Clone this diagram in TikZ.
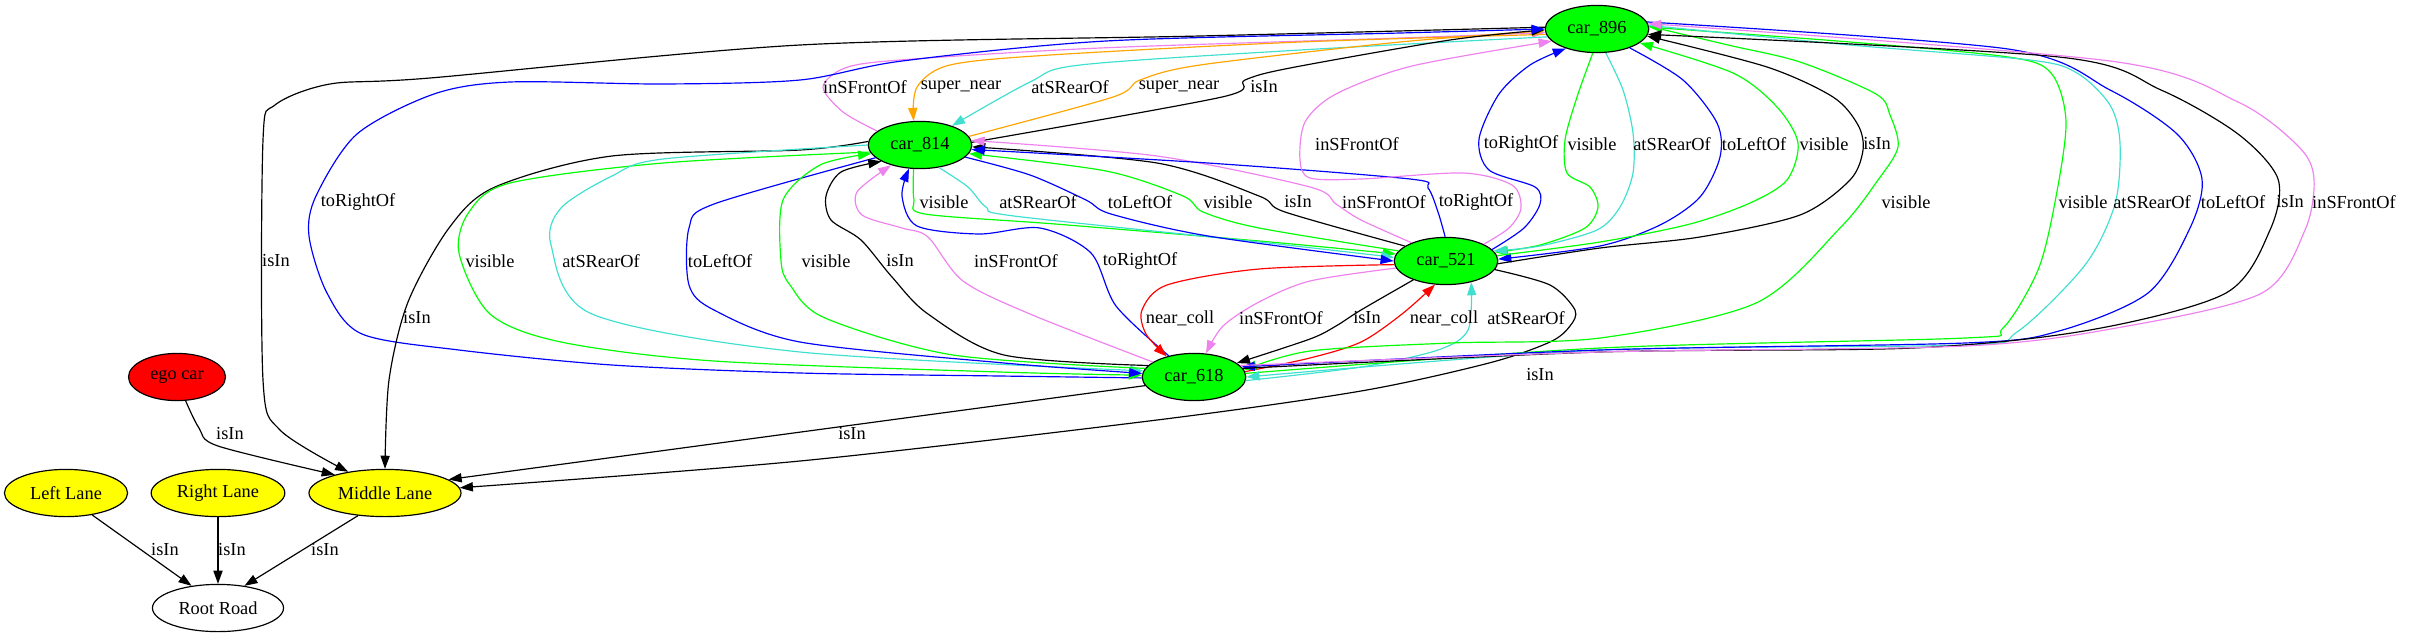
\documentclass[tikz,border=0pt]{standalone}
\usepackage{fontspec}
\setmainfont{Liberation Serif}
\usetikzlibrary{arrows.meta, shapes.geometric}
\definecolor{gvGreen}{RGB}{0, 255, 0}
\definecolor{gvYellow}{RGB}{255, 255, 0}
\definecolor{gvRed}{RGB}{255, 0, 0}
\definecolor{gvBlue}{RGB}{0, 0, 255}
\definecolor{gvTurq}{RGB}{64, 224, 208}
\definecolor{gvViolet}{RGB}{238, 130, 238}
\definecolor{gvOrange}{RGB}{255, 165, 0}

\begin{document}
\begin{tikzpicture}[
    x=0.763pt, y=-0.763pt,
    gnode/.style={ellipse, draw=black, line width=0.9pt, minimum height=36pt,
                  inner sep=2pt, font=\fontsize{14}{16}\selectfont},
    carnode/.style={gnode, fill=gvGreen, minimum width=79pt},
    lanenode/.style={gnode, fill=gvYellow},
    rel/.style={line width=0.9pt, -{Triangle[length=10pt, width=7pt]}},
    rlabel/.style={inner sep=0pt, font=\fontsize{14}{16}\selectfont},
  ]
    \useasboundingbox (0,0) rectangle (2418,639);

    \node[carnode] (car896) at (1597,29) {car\_896};
    \node[carnode] (car814) at (920,145) {car\_814};
    \node[carnode] (car521) at (1446,261) {car\_521};
    \node[carnode] (car618) at (1194,377) {car\_618};
    \node[gnode, fill=gvRed, minimum width=74pt] (ego) at (177,377) {ego car};
    \node[lanenode, minimum width=94pt] (leftlane) at (66,493) {Left Lane};
    \node[lanenode, minimum width=102pt] (rightlane) at (218,493) {Right Lane};
    \node[lanenode, minimum width=116pt] (midlane) at (385,493) {Middle Lane};
    \node[gnode, fill=white, minimum width=100pt] (root) at (218,608) {Root Road};

    % car_814 / car_896
    \draw[rel, gvViolet] plot[smooth] coordinates {(car814.162) (843,112) (823,87) (845,68) (900,60) (1100,48) (1400,38) (car896.184)};
    \draw[rel, gvOrange] plot[smooth] coordinates {(car896.186) (1300,42) (1050,55) (950,65) (917,87) (car814.105)};
    \draw[rel, gvTurq] plot[smooth] coordinates {(car896.189) (1300,50) (1080,65) (1030,82) (car814.31)};
    \draw[rel, gvOrange] plot[smooth] coordinates {(car814.10) (1113,97) (1140,80) (1200,65) (1400,42) (car896.182)};
    \draw[rel] plot[smooth] coordinates {(car814.3) (1222,97) (1245,80) (1290,68) (1450,40) (car896.181)};
    \node[rlabel] (lab1) at (865,87) {inSFrontOf};
    \node[rlabel] (lab2) at (961,87) {super\_near};
    \node[rlabel] (lab3) at (1070,87) {atSRearOf};
    \node[rlabel] (lab4) at (1179,87) {super\_near};
    \node[rlabel] (lab5) at (1264,87) {isIn};

    % lanes and road
    \draw[rel] plot[smooth] coordinates {(car896.178) (1200,36) (800,45) (430,78) (330,84) (275,105) (263,140) (263,380) (280,430) (midlane.150)};
    \draw[rel, gvBlue] plot[smooth] coordinates {(car618.181) (1000,376) (800,373) (612,365) (459,350) (362,334) (327,293) (309,236) (316,196) (357,134) (434,94) (510,82) (663,84) (800,80) (902,61) (1106,41) (1400,33) (car896.180)};
    \draw[rel] plot[smooth] coordinates {(car814.176) (800,150) (612,156) (495,187) (449,228) (408,302) (389,380) (midlane.north)};
    \draw[rel] (car618.190) -- (midlane.12);
    \draw[rel] plot[smooth] coordinates {(car521.-10) (1550,285) (1575,310) (1570,326) (1550,342) (1489,363) (1361,391) (1157,420) (800,461) (midlane.4)};
    \draw[rel] plot[smooth] coordinates {(ego.-70) (199,428) (218,446) (midlane.160)};
    \draw[rel] (leftlane.-40) -- (root.140);
    \draw[rel] (rightlane) -- (root);
    \draw[rel] (midlane.-140) -- (root.40);
    \node[rlabel] (lab6) at (276,261) {isIn};
    \node[rlabel] (lab7) at (358,202) {toRightOf};
    \node[rlabel] (lab8) at (417,318) {isIn};
    \node[rlabel] (lab9) at (852,434) {isIn};
    \node[rlabel] (lab10) at (1540,375) {isIn};
    \node[rlabel] (lab11) at (230,434) {isIn};
    \node[rlabel] (lab12) at (165,550) {isIn};
    \node[rlabel] (lab13) at (232,550) {isIn};
    \node[rlabel] (lab14) at (325,550) {isIn};

    % car_814 / car_521
    \draw[rel, gvGreen] plot[smooth] coordinates {(car814.-105) (914,200) (925,214) (1055,224) (1259,241) (car521.172)};
    \draw[rel, gvTurq] plot[smooth] coordinates {(car814.-50) (968,187) (986,207) (1014,216) (1259,242) (car521.176)};
    \draw[rel, gvBlue] plot[smooth] coordinates {(car814.-15) (1030,175) (1086,200) (1111,214) (1208,236) (car521.180)};
    \draw[rel, gvGreen] plot[smooth] coordinates {(car521.168) (1259,228) (1203,212) (1183,196) (1106,171) (car814.-10)};
    \draw[rel] plot[smooth] coordinates {(car521.160) (1285,212) (1259,196) (1157,163) (car814.-2)};
    \draw[rel, gvViolet] plot[smooth] coordinates {(car521.152) (1361,220) (1336,204) (1310,187) (1157,156) (car814.5)};
    \draw[rel, gvBlue] plot[smooth] coordinates {(car521.92) (1438,212) (1428,188) (1410,179) (1208,163) (car814.-5)};
    \node[rlabel] (lab15) at (944,202) {visible};
    \node[rlabel] (lab16) at (1038,202) {atSRearOf};
    \node[rlabel] (lab17) at (1140,202) {toLeftOf};
    \node[rlabel] (lab18) at (1228,202) {visible};
    \node[rlabel] (lab19) at (1298,202) {isIn};
    \node[rlabel] (lab20) at (1384,202) {inSFrontOf};
    \node[rlabel] (lab21) at (1476,202) {toRightOf};

    % car_814 / car_618
    \draw[rel, gvGreen] plot[smooth] coordinates {(car814.188) (663,163) (510,183) (469,212) (459,253) (490,314) (561,342) (714,361) (1000,372) (car618.178)};
    \draw[rel, gvTurq] plot[smooth] coordinates {(car814.180) (663,159) (612,176) (561,208) (551,245) (592,314) (800,352) (car618.173)};
    \draw[rel, gvBlue] plot[smooth] coordinates {(car814.196) (714,204) (689,228) (689,285) (714,310) (800,342) (1004,363) (car618.176)};
    \draw[rel, gvGreen] plot[smooth] coordinates {(car618.170) (953,355) (825,318) (790,285) (781,261) (783,200) (820,165) (car814.190)};
    \draw[rel] plot[smooth] coordinates {(car618.166) (1004,355) (928,314) (892,277) (861,240) (831,220) (826,196) (841,172) (car814.203)};
    \draw[rel, gvViolet] plot[smooth] coordinates {(car618.160) (1030,314) (963,281) (928,237) (902,228) (862,215) (857,192) (car814.215)};
    \draw[rel, gvBlue] plot[smooth] coordinates {(car618.140) (1116,306) (1091,253) (1040,228) (979,234) (917,226) (902,196) (car814.245)};
    \node[rlabel] (lab22) at (490,261) {visible};
    \node[rlabel] (lab23) at (601,261) {atSRearOf};
    \node[rlabel] (lab24) at (720,261) {toLeftOf};
    \node[rlabel] (lab25) at (826,261) {visible};
    \node[rlabel] (lab26) at (900,261) {isIn};
    \node[rlabel] (lab27) at (1016,261) {inSFrontOf};
    \node[rlabel] (lab28) at (1140,261) {toRightOf};

    % car_521 / car_618
    \draw[rel, gvRed] plot[smooth] coordinates {(car521.184) (1259,269) (1167,285) (1142,310) (1146,334) (car618.143)};
    \draw[rel, gvViolet] plot[smooth] coordinates {(car521.188) (1310,281) (1259,302) (1223,326) (car618.63)};
    \draw[rel] plot[smooth] coordinates {(car521.210) (1361,310) (1336,326) (1310,339) (car618.18)};
    \draw[rel, gvRed] plot[smooth] coordinates {(car618.6) (1310,358) (1361,342) (1402,314) (car521.-115)};
    \draw[rel, gvTurq] plot[smooth] coordinates {(car618.-4) (1361,367) (1438,350) (1468,330) (car521.-40)};
    \node[rlabel] (lab29) at (1180,318) {near\_coll};
    \node[rlabel] (lab30) at (1281,318) {inSFrontOf};
    \node[rlabel] (lab31) at (1367,318) {isIn};
    \node[rlabel] (lab32) at (1444,318) {near\_coll};
    \node[rlabel] (lab33) at (1526,318) {atSRearOf};

    % car_521 / car_896
    \draw[rel, gvViolet] plot[smooth] coordinates {(car521.24) (1509,228) (1521,208) (1512,185) (1463,173) (1361,179) (1310,178) (1300,160) (1305,122) (1336,94) (1412,66) (car896.195)};
    \draw[rel, gvBlue] plot[smooth] coordinates {(car521.14) (1524,228) (1540,204) (1535,187) (1489,170) (1479,139) (1499,94) (1530,65) (car896.212)};
    \draw[rel, gvGreen] plot[smooth] coordinates {(car896.-100) (1577,97) (1565,140) (1567,173) (1590,187) (1598,207) (1585,228) (1540,245) (car521.10)};
    \draw[rel, gvTurq] plot[smooth] coordinates {(car896.-70) (1623,90) (1633,133) (1633,173) (1620,207) (1597,230) (1540,246) (car521.12)};
    \draw[rel, gvBlue] plot[smooth] coordinates {(car896.-30) (1683,80) (1717,123) (1720,157) (1700,197) (1660,225) (1600,246) (car521.2)};
    \draw[rel, gvGreen] plot[smooth] coordinates {(car521.6) (1600,242) (1690,224) (1750,203) (1787,180) (1798,143) (1777,107) (1733,73) (car896.-18)};
    \draw[rel] plot[smooth] coordinates {(car521.-3) (1600,248) (1700,237) (1800,215) (1850,180) (1863,150) (1858,125) (1833,97) (1767,67) (car896.-8)};
    \node[rlabel] (lab34) at (1357,144) {inSFrontOf};
    \node[rlabel] (lab35) at (1521,144) {toRightOf};
    \node[rlabel] (lab36) at (1592,144) {visible};
    \node[rlabel] (lab37) at (1672,144) {atSRearOf};
    \node[rlabel] (lab38) at (1754,144) {toLeftOf};
    \node[rlabel] (lab39) at (1824,144) {visible};
    \node[rlabel] (lab40) at (1877,144) {isIn};

    % car_618 / car_896
    \draw[rel, gvGreen] plot[smooth] coordinates {(car896.3) (1728,45) (1800,62) (1876,94) (1890,115) (1898,147) (1878,180) (1840,228) (1756,303) (1600,338) (1450,343) (1310,351) (car618.8)};
    \draw[rel, gvGreen] plot[smooth] coordinates {(car618.4) (1600,348) (1965,338) (2003,328) (2038,270) (2055,202) (2066,122) (2051,73) (2008,57) (1850,42) (car896.2)};
    \draw[rel, gvTurq] plot[smooth] coordinates {(car896.4) (1850,45) (2030,60) (2077,73) (2110,105) (2120,143) (2115,204) (2085,265) (2017,332) (1965,345) (1600,350) (car618.0)};
    \draw[rel, gvBlue] plot[smooth] coordinates {(car896.8) (2008,49) (2110,90) (2177,134) (2202,179) (2190,228) (2148,293) (2059,331) (1965,343) (1600,350) (car618.12)};
    \draw[rel] plot[smooth] coordinates {(car618.10) (1600,352) (1913,348) (2090,330) (2226,293) (2270,230) (2278,179) (2238,134) (2161,90) (2059,57) (car896.-6)};
    \draw[rel, gvViolet] plot[smooth] coordinates {(car618.14) (1600,352) (1965,346) (2122,327) (2262,293) (2305,230) (2314,179) (2299,147) (2238,102) (2110,61) (car896.6)};
    \node[rlabel] (lab41) at (1906,202) {visible};
    \node[rlabel] (lab42) at (2083,202) {visible};
    \node[rlabel] (lab43) at (2152,202) {atSRearOf};
    \node[rlabel] (lab44) at (2233,202) {toLeftOf};
    \node[rlabel] (lab45) at (2290,202) {isIn};
    \node[rlabel] (lab46) at (2354,202) {inSFrontOf};
  \end{tikzpicture}
\end{document}
